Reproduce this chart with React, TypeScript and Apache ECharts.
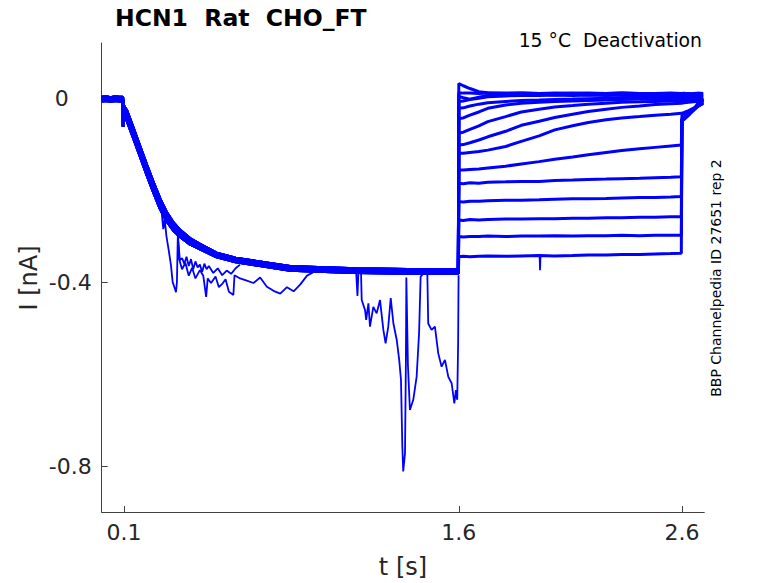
import React, { useEffect, useRef } from "react";
import * as echarts from "echarts";

// ---- activation phase (common to all sweeps), three overlapping traces ----
const actT = [0, 0.02, 0.04, 0.06, 0.08, 0.094, 0.096, 0.098, 0.1, 0.112, 0.142, 0.172, 0.202, 0.231, 0.261, 0.291, 0.321, 0.351, 0.395, 0.44, 0.515, 0.6, 0.694, 0.844, 1.0, 1.142, 1.3, 1.441, 1.598];
const actIa = [-0.002, -0.001, -0.003, -0.001, -0.002, -0.002, -0.062, -0.024, -0.027, -0.037, -0.076, -0.116, -0.156, -0.193, -0.229, -0.258, -0.279, -0.294, -0.311, -0.323, -0.341, -0.352, -0.359, -0.37, -0.373, -0.375, -0.376, -0.377, -0.377];
const actIb = [0.002, 0.003, 0.001, 0.003, 0.002, 0.002, -0.01, -0.015, -0.018, -0.027, -0.066, -0.106, -0.146, -0.183, -0.219, -0.249, -0.271, -0.287, -0.305, -0.318, -0.337, -0.348, -0.355, -0.366, -0.369, -0.371, -0.372, -0.373, -0.373];
const actIc = [-0.006, -0.005, -0.007, -0.005, -0.006, -0.006, -0.015, -0.03, -0.036, -0.047, -0.086, -0.126, -0.166, -0.203, -0.239, -0.267, -0.287, -0.301, -0.317, -0.328, -0.345, -0.356, -0.363, -0.374, -0.377, -0.379, -0.38, -0.381, -0.381];

// ---- deactivation phase (per sweep) ----
const deacT = [1.6, 1.62, 1.65, 1.69, 1.73, 1.81, 1.88, 1.96, 2.03, 2.11, 2.18, 2.26, 2.33, 2.41, 2.48, 2.55, 2.597];
const deac1 = [0.032, 0.027, 0.021, 0.014, 0.012, 0.011, 0.011, 0.01, 0.011, 0.01, 0.011, 0.01, 0.011, 0.01, 0.01, 0.011, 0.01];
const deac2 = [0.012, 0.011, 0.011, 0.01, 0.011, 0.01, 0.011, 0.01, 0.01, 0.011, 0.01, 0.01, 0.011, 0.01, 0.01, 0.01, 0.01];
const deac3 = [0.004, 0.001, -0.002, 0.002, 0.006, 0.007, 0.007, 0.008, 0.007, 0.008, 0.007, 0.008, 0.007, 0.007, 0.008, 0.007, 0.007];
const deac4 = [-0.007, -0.006, -0.003, 0.0, 0.003, 0.005, 0.006, 0.006, 0.007, 0.006, 0.007, 0.006, 0.007, 0.006, 0.006, 0.007, 0.006];
const deac5 = [-0.022, -0.021, -0.017, -0.013, -0.01, -0.007, -0.005, -0.004, -0.003, -0.002, -0.001, 0.0, 0.001, 0.002, 0.002, 0.003, 0.003];
const deac6 = [-0.044, -0.043, -0.037, -0.03, -0.022, -0.015, -0.011, -0.009, -0.007, -0.006, -0.005, -0.004, -0.003, -0.002, -0.002, -0.001, -0.001];
const deac7 = [-0.076, -0.074, -0.068, -0.06, -0.051, -0.04, -0.03, -0.024, -0.019, -0.016, -0.013, -0.011, -0.009, -0.008, -0.007, -0.006, -0.005];
const deac8 = [-0.102, -0.101, -0.097, -0.091, -0.084, -0.072, -0.059, -0.05, -0.042, -0.035, -0.029, -0.024, -0.02, -0.017, -0.014, -0.012, -0.011];
const deac9 = [-0.12, -0.12, -0.118, -0.116, -0.113, -0.105, -0.094, -0.082, -0.069, -0.06, -0.053, -0.047, -0.043, -0.04, -0.037, -0.035, -0.033];
const deac10 = [-0.156, -0.156, -0.155, -0.154, -0.152, -0.148, -0.143, -0.138, -0.133, -0.128, -0.123, -0.118, -0.114, -0.11, -0.107, -0.104, -0.102];
const deac11 = [-0.185, -0.186, -0.184, -0.185, -0.183, -0.182, -0.181, -0.181, -0.179, -0.178, -0.177, -0.176, -0.175, -0.174, -0.173, -0.172, -0.171];
const deac12 = [-0.225, -0.226, -0.224, -0.224, -0.223, -0.222, -0.222, -0.221, -0.22, -0.219, -0.219, -0.218, -0.217, -0.216, -0.216, -0.215, -0.214];
const deac13 = [-0.265, -0.266, -0.264, -0.265, -0.264, -0.263, -0.263, -0.262, -0.262, -0.261, -0.261, -0.26, -0.26, -0.259, -0.259, -0.258, -0.258];
const deac14 = [-0.301, -0.302, -0.301, -0.301, -0.3, -0.301, -0.3, -0.3, -0.299, -0.3, -0.299, -0.299, -0.298, -0.299, -0.298, -0.298, -0.298];
const deac15 = [-0.345, -0.344, -0.345, -0.344, -0.343, -0.344, -0.343, -0.342, -0.343, -0.342, -0.341, -0.341, -0.34, -0.34, -0.339, -0.338, -0.337];

// ---- return to holding (per sweep) ----
const tailT = [2.6, 2.61, 2.63, 2.65, 2.67, 2.695];
const tail1 = [0.01, 0.011, 0.009, 0.01, 0.011, 0.01];
const tail2 = [0.01, 0.009, 0.01, 0.009, 0.009, 0.008];
const tail3 = [0.007, 0.007, 0.006, 0.007, 0.006, 0.006];
const tail4 = [0.006, 0.005, 0.006, 0.005, 0.005, 0.004];
const tail5 = [0.003, 0.003, 0.002, 0.003, 0.002, 0.002];
const tail6 = [-0.001, -0.001, 0.0, 0.0, 0.001, 0.0];
const tail7 = [-0.005, -0.005, -0.004, -0.004, -0.003, -0.003];
const tail8 = [-0.011, -0.01, -0.009, -0.008, -0.007, -0.006];
const tail9 = [-0.033, -0.031, -0.027, -0.022, -0.017, -0.012];
const tail10 = [-0.036, -0.034, -0.03, -0.024, -0.018, -0.011];
const tail11 = [-0.044, -0.041, -0.035, -0.027, -0.019, -0.009];
const tail12 = [-0.046, -0.043, -0.036, -0.027, -0.017, -0.006];
const tail13 = [-0.047, -0.044, -0.036, -0.026, -0.015, -0.004];
const tail14 = [-0.048, -0.045, -0.036, -0.025, -0.013, -0.002];
const tail15 = [-0.049, -0.046, -0.037, -0.026, -0.013, 0.0];

// ---- noisy excursions of individual sweeps ----
const noiseAT = [0.261, 0.268, 0.276, 0.282, 0.29, 0.3, 0.31, 0.318, 0.325, 0.333, 0.337, 0.341, 0.347, 0.36, 0.375, 0.39, 0.405, 0.42, 0.44, 0.455, 0.468, 0.475, 0.49, 0.51, 0.525, 0.54, 0.555, 0.57, 0.59, 0.595, 0.62, 0.65, 0.68, 0.71, 0.74, 0.77, 0.8, 0.83, 0.86, 0.89, 0.92, 0.95];
const noiseAI = [-0.229, -0.245, -0.285, -0.262, -0.3, -0.33, -0.362, -0.4, -0.41, -0.422, -0.4, -0.3, -0.35, -0.372, -0.358, -0.386, -0.369, -0.392, -0.374, -0.386, -0.432, -0.392, -0.402, -0.388, -0.411, -0.404, -0.394, -0.421, -0.428, -0.385, -0.392, -0.397, -0.402, -0.39, -0.41, -0.419, -0.425, -0.411, -0.42, -0.405, -0.386, -0.378];
const noiseA2T = [0.34, 0.35, 0.36, 0.37, 0.38, 0.39, 0.4, 0.41, 0.42, 0.43, 0.44, 0.45, 0.46, 0.47, 0.48, 0.5, 0.52, 0.54, 0.56, 0.58, 0.6, 0.62];
const noiseA2I = [-0.289, -0.352, -0.348, -0.36, -0.345, -0.365, -0.35, -0.372, -0.355, -0.368, -0.362, -0.378, -0.36, -0.372, -0.365, -0.38, -0.37, -0.385, -0.375, -0.382, -0.37, -0.362];
const noiseBT = [1.14, 1.146, 1.15, 1.158, 1.162, 1.165, 1.18, 1.185, 1.195, 1.202, 1.217, 1.232, 1.247, 1.262, 1.272, 1.284, 1.295, 1.307, 1.322, 1.333, 1.341, 1.347, 1.351, 1.359, 1.363, 1.365, 1.372, 1.381, 1.396, 1.411, 1.422, 1.429, 1.445, 1.459, 1.463, 1.478, 1.493, 1.508, 1.523, 1.538, 1.553, 1.568, 1.58, 1.587, 1.593, 1.597, 1.599];
const noiseBI = [-0.378, -0.43, -0.38, -0.378, -0.38, -0.439, -0.461, -0.482, -0.446, -0.497, -0.454, -0.468, -0.439, -0.504, -0.533, -0.497, -0.435, -0.49, -0.526, -0.569, -0.613, -0.758, -0.812, -0.772, -0.569, -0.39, -0.58, -0.678, -0.656, -0.606, -0.511, -0.388, -0.38, -0.38, -0.49, -0.504, -0.497, -0.555, -0.584, -0.569, -0.606, -0.62, -0.664, -0.635, -0.656, -0.533, -0.385];
const spikeT = [1.962, 1.964, 1.966];
const spikeI = [-0.343, -0.374, -0.343];

// ---- ticks ----
const xTicks = [0.1, 1.6, 2.6];
const yTicks = [0, -0.4, -0.8];

const deacSweeps = [deac1, deac2, deac3, deac4, deac5, deac6, deac7, deac8, deac9, deac10, deac11, deac12, deac13, deac14, deac15];
const tailSweeps = [tail1, tail2, tail3, tail4, tail5, tail6, tail7, tail8, tail9, tail10, tail11, tail12, tail13, tail14, tail15];
const actVariants = [actIa, actIb, actIc];

const zip = (ts: number[], vs: number[]) => ts.map((t, i) => [t, vs[i]]);

const FONT = "DejaVu Sans";
const BLUE = "#0000ff";

export default function App() {
  const ref = useRef<HTMLDivElement>(null);
  useEffect(() => {
    if (!ref.current) return;
    const chart = echarts.init(ref.current, undefined, { renderer: "svg" });
    const series: any[] = deacSweeps.map((d, i) => ({
      type: "line",
      symbol: "none",
      silent: true,
      lineStyle: { color: BLUE, width: 3 },
      data: [
        ...zip(actT, actVariants[i % 3]),
        ...zip(deacT, d),
        ...zip(tailT, tailSweeps[i]),
      ],
    }));
    [
      [noiseAT, noiseAI],
      [noiseA2T, noiseA2I],
      [noiseBT, noiseBI],
      [spikeT, spikeI],
    ].forEach(([t, v]) =>
      series.push({
        type: "line",
        symbol: "none",
        silent: true,
        lineStyle: { color: BLUE, width: 1.8 },
        data: zip(t, v),
      })
    );
    chart.setOption({
      animation: false,
      grid: { left: 101.7, right: 73.7, top: 43, bottom: 71 },
      xAxis: {
        type: "value",
        min: 0,
        max: 2.7,
        axisLine: { show: true, onZero: false, lineStyle: { color: "#404040", width: 1 } },
        axisTick: { show: true, inside: true, length: 6, customValues: xTicks, lineStyle: { color: "#404040" } },
        axisLabel: {
          customValues: xTicks,
          margin: 9,
          fontSize: 22,
          fontFamily: FONT,
          color: "#262626",
          formatter: (v: number) => v.toFixed(1),
        },
        splitLine: { show: false },
      },
      yAxis: {
        type: "value",
        min: -0.9,
        max: 0.12,
        axisLine: { show: true, onZero: false, lineStyle: { color: "#404040", width: 1 } },
        axisTick: { show: true, inside: true, length: 6, customValues: yTicks, lineStyle: { color: "#404040" } },
        axisLabel: {
          customValues: yTicks,
          margin: 10,
          fontSize: 22,
          fontFamily: FONT,
          color: "#262626",
          formatter: (v: number) => (Math.abs(v) < 1e-9 ? "{z|0}" : "{n|" + v.toFixed(1) + "}"),
          rich: {
            z: { fontSize: 22, fontFamily: FONT, color: "#262626", padding: [0, 23, 0, 0] },
            n: { fontSize: 22, fontFamily: FONT, color: "#262626" },
          },
        },
        splitLine: { show: false },
      },
      graphic: [
        {
          type: "text",
          x: 115,
          y: 17.5,
          style: { text: "HCN1  Rat  CHO_FT", fontSize: 23.5, fontWeight: "bold", fontFamily: FONT, fill: "#000", align: "left", verticalAlign: "middle" },
        },
        {
          type: "text",
          x: 702,
          y: 40,
          style: { text: "15 °C  Deactivation", fontSize: 18.8, fontFamily: FONT, fill: "#000", align: "right", verticalAlign: "middle" },
        },
        {
          type: "text",
          x: 716,
          y: 278,
          rotation: Math.PI / 2,
          style: { text: "BBP Channelpedia ID 27651 rep 2", fontSize: 14, fontFamily: FONT, fill: "#000", align: "center", verticalAlign: "middle" },
        },
        {
          type: "text",
          x: 29,
          y: 278,
          rotation: Math.PI / 2,
          style: { text: "I [nA]", fontSize: 24, fontFamily: FONT, fill: "#262626", align: "center", verticalAlign: "middle" },
        },
        {
          type: "text",
          x: 403,
          y: 567,
          style: { text: "t [s]", fontSize: 24, fontFamily: FONT, fill: "#262626", align: "center", verticalAlign: "middle" },
        },
      ],
      series,
    });
    return () => chart.dispose();
  }, []);
  return <div ref={ref} style={{ position: "absolute", left: 0, top: 0, width: 778, height: 583, background: "#fff" }} />;
}
